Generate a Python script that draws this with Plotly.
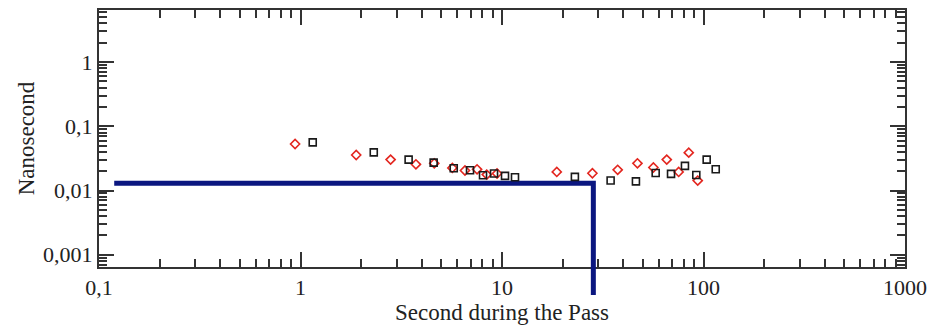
import plotly.graph_objects as go

# --- data ---
red_x = [0.94, 1.89, 2.80, 3.74, 4.61, 5.67, 6.55, 7.52, 8.40, 9.45,
         18.7, 28.1, 37.5, 47.0, 56.4, 65.7, 75.3, 84.5, 93.6]
red_y = [0.0531, 0.0358, 0.0303, 0.0256, 0.0265, 0.0225, 0.0205, 0.0214, 0.0177, 0.0184,
         0.0195, 0.0186, 0.0210, 0.0265, 0.0228, 0.0303, 0.0195, 0.0389, 0.0143]

black_x = [1.15, 2.31, 3.44, 4.58, 5.76, 6.94, 8.05, 9.13, 10.35, 11.6,
           23.0, 34.6, 46.2, 57.9, 69.0, 80.9, 92.1, 103.7, 115.0]
black_y = [0.0562, 0.0393, 0.0303, 0.0272, 0.0222, 0.0207, 0.0173, 0.0184, 0.0169, 0.0161,
           0.0163, 0.0143, 0.0139, 0.0188, 0.0182, 0.0242, 0.0175, 0.0303, 0.0214]

limit_x = [0.119, 28.4, 28.4]
limit_y = [0.013, 0.013, 0.000646]

x_tickvals = [0.1, 1, 10, 100, 1000]
x_ticktext = ["0,1", "1", "10", "100", "1000"]
y_tickvals = [0.001, 0.01, 0.1, 1]
y_ticktext = ["0,001", "0,01", "0,1", "1"]

x_title = "Second during the Pass"
y_title = "Nanosecond"

FONT = "Liberation Serif"
AXC = "#333333"
NAVY = "#0b1780"

fig = go.Figure()
fig.add_trace(go.Scatter(x=limit_x, y=limit_y, mode="lines",
                         line=dict(color=NAVY, width=5), showlegend=False))
fig.add_trace(go.Scatter(x=red_x, y=red_y, mode="markers",
                         marker=dict(symbol="diamond-open", size=7, color="#e3261f",
                                     line=dict(width=1.6, color="#e3261f")),
                         showlegend=False))
fig.add_trace(go.Scatter(x=black_x, y=black_y, mode="markers",
                         marker=dict(symbol="square-open", size=7, color="#1a1a1a",
                                     line=dict(width=1.6, color="#1a1a1a")),
                         showlegend=False))

# extension of the vertical limit line below the axis
fig.add_shape(type="line", xref="x", yref="paper", x0=28.4, x1=28.4, y0=0, y1=-0.109,
              line=dict(color=NAVY, width=5), layer="above")

axis_common = dict(
    type="log", showgrid=False, zeroline=False, automargin=False,
    showline=True, linecolor=AXC, linewidth=2, mirror="allticks",
    ticks="inside", ticklen=15, tickwidth=1.5, tickcolor=AXC,
    tickmode="array",
    tickfont=dict(family=FONT, size=22, color="#222222"),
    minor=dict(ticks="inside", ticklen=8, tickwidth=1.5, tickcolor=AXC, dtick="D1",
               showgrid=False),
)

fig.update_xaxes(**axis_common, range=[-1, 3], tickvals=x_tickvals, ticktext=x_ticktext,
                 title=dict(text=x_title, font=dict(family=FONT, size=23, color="#222222"),
                            standoff=4))
fig.update_yaxes(**axis_common, range=[-3.19, 0.81], tickvals=y_tickvals, ticktext=y_ticktext,
                 title=dict(text=y_title, font=dict(family=FONT, size=23, color="#222222"),
                            standoff=2))

# page body has an 8px margin, so the figure is sized to fit the window
fig.update_layout(width=936, height=318, margin=dict(l=91, r=39, t=2, b=59),
                  paper_bgcolor="white", plot_bgcolor="white")

fig.write_html("out.html")
